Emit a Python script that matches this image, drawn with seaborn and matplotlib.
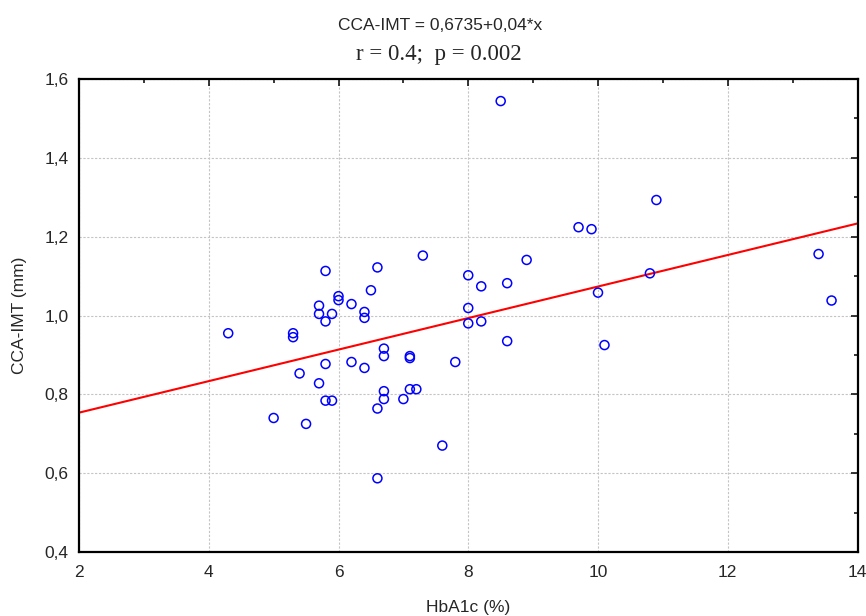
import seaborn as sns
import numpy as np
import matplotlib.pyplot as plt
from matplotlib.ticker import MultipleLocator, FuncFormatter

# HbA1c (%) vs CCA-IMT (mm)
hba1c = [4.3, 5.0, 5.3, 5.3, 5.4, 5.5, 5.7, 5.7, 5.7, 5.8, 5.8, 5.8, 5.8, 5.9, 5.9,
         6.0, 6.0, 6.2, 6.2, 6.4, 6.4, 6.4, 6.5, 6.6, 6.6, 6.6, 6.7, 6.7, 6.7, 6.7,
         7.0, 7.1, 7.1, 7.1, 7.2, 7.3, 7.6, 7.8, 8.0, 8.0, 8.0, 8.2, 8.2,
         8.5, 8.6, 8.6, 8.9, 9.7, 9.9, 10.0, 10.1, 10.8, 10.9, 13.4, 13.6]
cca_imt = [0.955, 0.740, 0.955, 0.945, 0.853, 0.725, 1.025, 1.004, 0.828, 1.113, 0.985, 0.877, 0.784, 1.004, 0.784,
           1.049, 1.039, 1.029, 0.882, 1.009, 0.994, 0.867, 1.064, 1.122, 0.764, 0.587, 0.916, 0.897, 0.808, 0.788,
           0.788, 0.897, 0.892, 0.813, 0.813, 1.152, 0.670, 0.882, 1.102, 1.019, 0.980, 1.074, 0.985,
           1.544, 1.082, 0.935, 1.141, 1.224, 1.219, 1.058, 0.925, 1.107, 1.293, 1.156, 1.038]

# fitted line from the title
intercept = 0.6735
slope = 0.04
x_range = [2, 14]
y_range = [0.4, 1.6]

fit_x = np.array(x_range, dtype=float)
fit_y = intercept + slope * fit_x

sns.set_style("white")
plt.rcParams['font.family'] = ['Liberation Sans', 'DejaVu Sans']

fig = plt.figure(figsize=[8.66, 6.16], dpi=100)
ax = fig.add_axes([79/866, 1 - 552/616, 778.5/866, 473/616])

sns.lineplot(x=fit_x, y=fit_y, color='#ff0000', linewidth=1.5, ax=ax, zorder=2)
sns.scatterplot(x=hba1c, y=cca_imt, ax=ax, marker='o', s=42, color='#0000ff',
                facecolor='none', edgecolor='#0000ff', linewidth=1.1, zorder=3)

ax.set_xlim(x_range)
ax.set_ylim(y_range)
ax.xaxis.set_major_locator(MultipleLocator(2))
ax.xaxis.set_minor_locator(MultipleLocator(1))
ax.yaxis.set_major_locator(MultipleLocator(0.2))
ax.yaxis.set_minor_locator(MultipleLocator(0.1))
ax.yaxis.set_major_formatter(FuncFormatter(lambda v, pos: f"{v:.1f}".replace('.', ',')))
ax.xaxis.set_major_formatter(FuncFormatter(lambda v, pos: f"{v:.0f}"))

ax.grid(True, which='major', color='#c4c4c4', linestyle=(0, (2, 1.5)), linewidth=0.8)
ax.set_axisbelow(True)
for s in ax.spines.values():
    s.set_visible(True)
    s.set_color('black')
    s.set_linewidth(1.6)

ax.tick_params(which='both', direction='in', top=True, right=True, color='black', width=1.1)
ax.tick_params(which='major', length=5, labelsize=12.5)
ax.tick_params(axis='x', which='major', pad=9.5)
ax.tick_params(axis='y', which='major', pad=7.5)
ax.tick_params(which='minor', length=3)

ax.set_xlabel("HbA1c (%)", fontsize=12.5)
ax.set_ylabel("CCA-IMT (mm)", fontsize=12.5)
ax.xaxis.set_label_coords(0.5, -0.102)
ax.yaxis.set_label_coords(-0.067, 0.5)

# two-line title, second line in a serif face
fig.text(440/866, 1 - 25.7/616, "CCA-IMT = 0,6735+0,04*x", ha='center', va='center', fontsize=12.5)
fig.text(439/866, 1 - 60/616, "r = 0.4;  p = 0.002", ha='center', va='baseline', fontsize=16.5,
         family=['Liberation Serif', 'DejaVu Serif'])

plt.savefig('out.png', dpi=100)
